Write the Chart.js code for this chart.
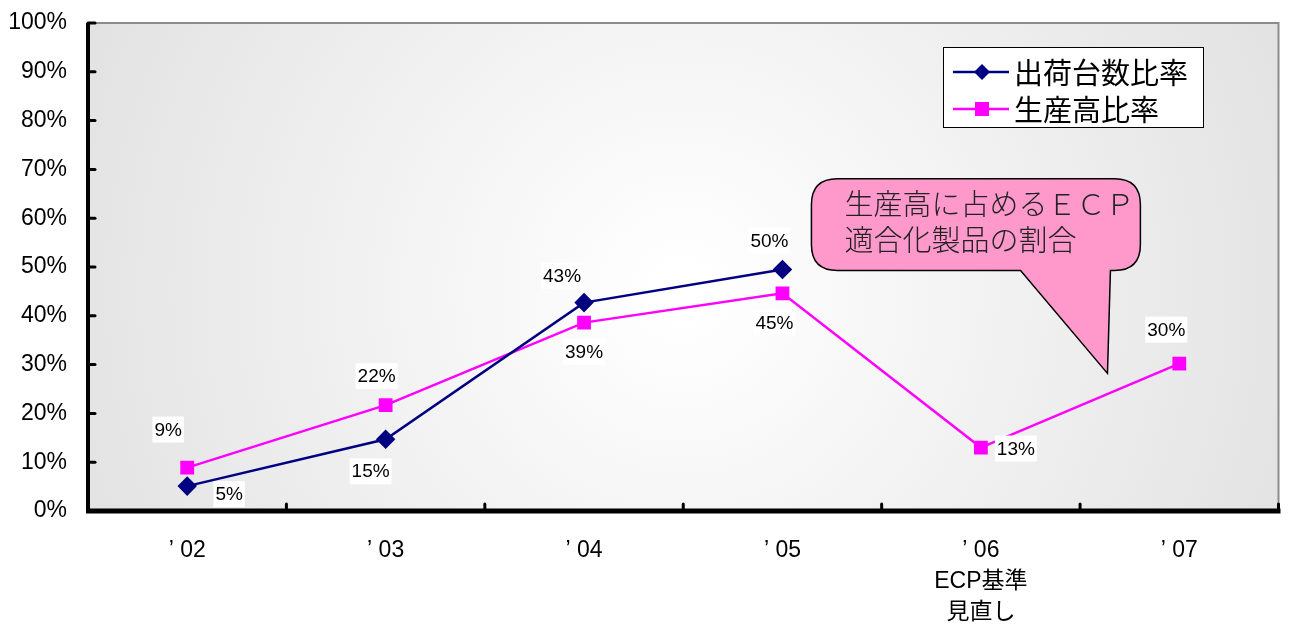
<!DOCTYPE html>
<html lang="ja">
<head>
<meta charset="utf-8">
<script src="https://cdn.jsdelivr.net/npm/chart.js@4.4.1/dist/chart.umd.min.js"></script>
<style>
  html,body{margin:0;padding:0;background:#fff;}
  #wrap{width:1289px;height:624px;}
</style>
</head>
<body>
<div id="wrap"><canvas id="ecpChart" width="1289" height="624"></canvas></div>
<script>
const years = ["’ 02", "’ 03", "’ 04", "’ 05", ["’ 06", "ECP基準", "見直し"], "’ 07"];
const shipmentRatio = [5.1, 14.7, 42.7, 49.5, null, null];
const productionRatio = [8.9, 21.7, 38.6, 44.6, 13.0, 30.2];
const yTicks = [0, 10, 20, 30, 40, 50, 60, 70, 80, 90, 100];
const seriesNames = ["出荷台数比率", "生産高比率"];
const calloutLines = ["生産高に占めるＥＣＰ", "適合化製品の割合"];

// label offsets (px) from each point, per series
const shipLabelPos = [[42, 8], [-15, 32], [-22, -27], [-13, -29], null, null];
const prodLabelPos = [[-19, -38], [-9, -29], [0, 29], [-8, 29], [35, 1], [-13, -34]];

const NAVY = "#000080", MAGENTA = "#ff00ff";

const plotBackground = {
  id: "plotBackground",
  beforeDraw(chart){
    const {ctx, chartArea:a} = chart;
    const cx = (a.left + a.right) / 2, cy = a.top + (a.bottom - a.top) * 0.55;
    const g = ctx.createRadialGradient(cx, cy, 20, cx, cy, (a.right - a.left) * 0.55);
    g.addColorStop(0, "#ffffff");
    g.addColorStop(1, "#e2e2e2");
    ctx.save();
    ctx.fillStyle = g;
    ctx.fillRect(a.left, a.top, a.right - a.left, a.bottom - a.top);
    ctx.strokeStyle = "#8c8c8c";
    ctx.lineWidth = 2;
    ctx.beginPath();
    ctx.moveTo(a.left, a.top); ctx.lineTo(a.right, a.top); ctx.lineTo(a.right, a.bottom);
    ctx.stroke();
    ctx.restore();
  }
};

const axesFrame = {
  id: "axesFrame",
  beforeDatasetsDraw(chart){
    const {ctx, chartArea:a, scales} = chart;
    ctx.save();
    ctx.strokeStyle = "#000";
    ctx.lineCap = "round";
    ctx.lineWidth = 3;
    // y ticks pointing inward
    yTicks.forEach(v => {
      const y = scales.y.getPixelForValue(v);
      ctx.beginPath(); ctx.moveTo(a.left, y); ctx.lineTo(a.left + 7, y); ctx.stroke();
    });
    // x ticks between categories
    const step = (a.right - a.left) / years.length;
    for(let i = 1; i <= years.length; i++){
      const x = scales.x.getPixelForValue(i - 1) + step / 2;
      ctx.beginPath(); ctx.moveTo(x, a.bottom); ctx.lineTo(x, a.bottom - 7); ctx.stroke();
    }
    ctx.lineCap = "butt";
    ctx.lineWidth = 4;
    ctx.beginPath(); ctx.moveTo(a.left, a.top); ctx.lineTo(a.left, a.bottom + 2); ctx.stroke();
    ctx.lineWidth = 5;
    ctx.beginPath(); ctx.moveTo(a.left - 2, a.bottom); ctx.lineTo(a.right + 2, a.bottom); ctx.stroke();
    ctx.restore();
  }
};

const valueLabels = {
  id: "valueLabels",
  afterDatasetsDraw(chart){
    const {ctx} = chart;
    const offsets = [shipLabelPos, prodLabelPos];
    ctx.save();
    ctx.font = "19px 'Liberation Sans', Arial, sans-serif";
    ctx.textAlign = "center";
    ctx.textBaseline = "middle";
    chart.data.datasets.forEach((ds, di) => {
      const meta = chart.getDatasetMeta(di);
      ds.data.forEach((v, i) => {
        if(v === null || !offsets[di][i]) return;
        const pt = meta.data[i];
        const txt = Math.round(v) + "%";
        const x = pt.x + offsets[di][i][0], y = pt.y + offsets[di][i][1];
        const w = ctx.measureText(txt).width + 4;
        ctx.fillStyle = "#fff";
        ctx.fillRect(x - w / 2, y - 13, w, 26);
        ctx.fillStyle = "#000";
        ctx.fillText(txt, x, y + 1);
      });
    });
    ctx.restore();
  }
};

// speech balloon placed in data space (category index, percent)
const callout = {
  id: "callout",
  afterDatasetsDraw(chart){
    const {ctx, scales:{x, y}} = chart;
    const px = v => x.getPixelForValue(0) + (x.getPixelForValue(1) - x.getPixelForValue(0)) * v;
    const l = px(3.146), r = px(4.804), t = y.getPixelForValue(68.1), b = y.getPixelForValue(49.3);
    const tl = px(4.2), tr = px(4.653), tipX = px(4.638), tipY = y.getPixelForValue(28.2);
    const rad = 26;
    ctx.save();
    ctx.beginPath();
    ctx.moveTo(l + rad, t);
    ctx.lineTo(r - rad, t);
    ctx.quadraticCurveTo(r, t, r, t + rad);
    ctx.lineTo(r, b - rad);
    ctx.quadraticCurveTo(r, b, r - rad, b);
    ctx.lineTo(tr, b);
    ctx.lineTo(tipX, tipY);
    ctx.lineTo(tl, b);
    ctx.lineTo(l + rad, b);
    ctx.quadraticCurveTo(l, b, l, b - rad);
    ctx.lineTo(l, t + rad);
    ctx.quadraticCurveTo(l, t, l + rad, t);
    ctx.closePath();
    ctx.fillStyle = "#ff99cc";
    ctx.fill();
    ctx.strokeStyle = "#000";
    ctx.lineWidth = 1.5;
    ctx.stroke();
    ctx.fillStyle = "#222";
    ctx.font = "300 29px 'Noto Sans CJK JP', sans-serif";
    ctx.textAlign = "left";
    ctx.textBaseline = "middle";
    ctx.fillText(calloutLines[0], l + 33, t + 25);
    ctx.fillText(calloutLines[1], l + 33, t + 61);
    ctx.restore();
  }
};

// framed legend box in the upper right
const legendBox = {
  id: "legendBox",
  afterDatasetsDraw(chart){
    const {ctx} = chart;
    const bx = 943, by = 47, bw = 260, bh = 80;
    ctx.save();
    ctx.fillStyle = "#fff";
    ctx.fillRect(bx, by, bw, bh);
    ctx.strokeStyle = "#000";
    ctx.lineWidth = 1;
    ctx.strokeRect(bx + 0.5, by + 0.5, bw, bh);
    chart.data.datasets.forEach((ds, i) => {
      const cy = by + 25 + i * 37;
      ctx.strokeStyle = ds.borderColor;
      ctx.lineWidth = 2.5;
      ctx.beginPath(); ctx.moveTo(bx + 10, cy); ctx.lineTo(bx + 66, cy); ctx.stroke();
      ctx.fillStyle = ds.borderColor;
      const mx = bx + 39;
      if(ds.pointStyle === "rectRot"){
        ctx.beginPath();
        ctx.moveTo(mx, cy - 8); ctx.lineTo(mx + 8, cy); ctx.lineTo(mx, cy + 8); ctx.lineTo(mx - 8, cy);
        ctx.closePath(); ctx.fill();
      } else {
        ctx.fillRect(mx - 7, cy - 7, 14, 14);
      }
      ctx.fillStyle = "#000";
      ctx.font = "29px 'Noto Sans CJK JP', sans-serif";
      ctx.textBaseline = "middle";
      ctx.fillText(ds.label, bx + 71, cy + 1);
    });
    ctx.restore();
  }
};

new Chart(document.getElementById("ecpChart"), {
  type: "line",
  data: {
    labels: years,
    datasets: [
      {label: seriesNames[0], data: shipmentRatio, borderColor: NAVY, backgroundColor: NAVY,
       borderWidth: 2.5, pointStyle: "rectRot", pointRadius: 8, pointHoverRadius: 8, tension: 0, spanGaps: false},
      {label: seriesNames[1], data: productionRatio, borderColor: MAGENTA, backgroundColor: MAGENTA,
       borderWidth: 2.5, pointStyle: "rect", pointRadius: 8, pointHoverRadius: 8, tension: 0}
    ]
  },
  options: {
    responsive: false,
    animation: false,
    layout: {padding: {top: 23, right: 8, left: 0, bottom: 0}},
    plugins: {legend: {display: false}, tooltip: {enabled: false}},
    scales: {
      x: {
        offset: true,
        grid: {display: false},
        border: {display: false},
        ticks: {color: "#000", font: {size: 23, lineHeight: 1.35, family: "'Liberation Sans', 'Noto Sans CJK JP', sans-serif"}, padding: 16, maxRotation: 0, autoSkip: false},
        afterFit(s){ s.height = 113; s.paddingLeft = 0; s.paddingRight = 0; }
      },
      y: {
        min: 0, max: 100,
        afterBuildTicks(s){ s.ticks = yTicks.map(v => ({value: v})); },
        grid: {display: false},
        border: {display: false},
        ticks: {color: "#000", font: {size: 23, family: "'Liberation Sans', Arial, sans-serif"}, padding: 13, callback: v => v + "%"},
        afterFit(s){ s.width = 88; s.paddingTop = 0; s.paddingBottom = 0; }
      }
    }
  },
  plugins: [plotBackground, axesFrame, valueLabels, callout, legendBox]
});
</script>
</body>
</html>
